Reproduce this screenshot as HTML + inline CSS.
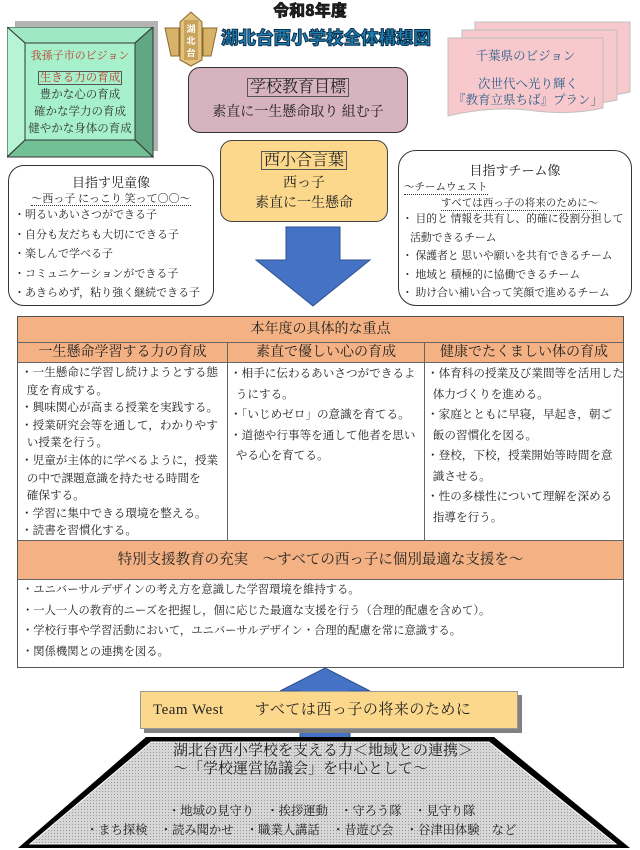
<!DOCTYPE html>
<html><head><meta charset="utf-8">
<style>
*{margin:0;padding:0;box-sizing:border-box}
body{width:640px;height:850px;background:#fff;position:relative;overflow:hidden;font-family:"Liberation Serif","Noto Serif CJK SC",serif;color:#222}
.a{position:absolute}
.c{text-align:center}
</style></head><body>

<!-- Green vision box -->
<div class="a" style="left:15px;top:21px;width:143px;height:130px;background:#b3b3b3"></div>
<svg class="a" style="left:7px;top:27px" width="147" height="131">
<polygon points="0,0 146,0 128,16 18,16" fill="#9fe8c4" stroke="#333" stroke-width="1"/>
<polygon points="146,0 146,130 128,113 128,16" fill="#5fa883" stroke="#333"/>
<polygon points="0,130 146,130 128,113 18,113" fill="#72c095" stroke="#333"/>
<polygon points="0,0 18,16 18,113 0,130" fill="#b5f5d6" stroke="#333"/>
<rect x="18" y="16" width="110" height="97" fill="#a6f0cc" stroke="#333"/>
</svg>
<div class="a c" style="left:25px;top:47px;width:110px;font-size:11px;color:#c0392b">我孫子市のビジョン</div>
<div class="a c" style="left:25px;top:70px;width:110px;font-size:11.5px;line-height:17px;color:#333">
<span style="color:#c0392b;border:1px solid #555;padding:0 1px">生きる力の育成</span><br>豊かな心の育成<br>確かな学力の育成<br>健やかな身体の育成</div>

<!-- emblem -->
<svg class="a" style="left:163px;top:10px" width="56" height="58">
<path d="M2,18 L16,18 L16,46 L8,46 Z M54,18 L40,18 L40,46 L48,46 Z" fill="#d9b26a" stroke="#8a6a2a"/>
<path d="M17,12 L28,2 L39,12 L39,50 L28,56 L17,50 Z" fill="#e3c27f" stroke="#8a6a2a"/>
<rect x="21" y="10" width="14" height="40" fill="#c9a25c"/>
<text x="28" y="22" font-size="9" text-anchor="middle" fill="#fff" font-weight="bold" font-family="Noto Sans CJK JP,sans-serif">湖</text>
<text x="28" y="34" font-size="9" text-anchor="middle" fill="#fff" font-weight="bold" font-family="Noto Sans CJK JP,sans-serif">北</text>
<text x="28" y="46" font-size="9" text-anchor="middle" fill="#fff" font-weight="bold" font-family="Noto Sans CJK JP,sans-serif">台</text>
</svg>

<!-- titles -->
<div class="a c" style="left:260px;top:-3px;width:100px;font-family:'Noto Sans CJK JP',sans-serif;font-weight:900;font-size:16px;color:#222;-webkit-text-stroke:0.5px #000">令和8年度</div>
<div class="a" style="left:221px;top:25px;white-space:nowrap;font-family:'Noto Sans CJK JP',sans-serif;font-weight:900;font-size:17.5px;color:#1e7fb3;-webkit-text-stroke:1px #0b2f4a">湖北台西小学校全体構想図</div>

<!-- pink goal -->
<div class="a c" style="left:188px;top:67px;width:220px;height:66px;background:#d7b3bf;border:1px solid #333;border-radius:12px">
<div style="margin-top:6px;font-size:16px"><span style="border:1px solid #555;padding:0 2px">学校教育目標</span></div>
<div style="font-size:14px;margin-top:4px">素直に一生懸命取り 組む子</div></div>

<!-- Chiba doc stacked -->
<svg class="a" style="left:445px;top:20px" width="190" height="100">
<g fill="#f8c9cc" stroke="#c0c0c0">
<path d="M30,2 H185 V72 Q150,80 110,74 Q70,70 30,78 Z"/>
<path d="M17,10 H172 V80 Q137,88 97,82 Q57,78 17,86 Z"/>
<path d="M3,18 H158 V88 Q123,96 83,90 Q43,86 3,96 Z"/>
</g></svg>
<div class="a c" style="left:448px;top:46px;width:155px;font-size:12.5px;color:#2a5d8a">千葉県のビジョン</div>
<div class="a c" style="left:448px;top:76px;width:160px;font-size:12.5px;line-height:16px;color:#2a5d8a">次世代へ光り輝く<br>『教育立県ちば』プラン」</div>

<!-- yellow -->
<div class="a c" style="left:220px;top:140px;width:168px;height:82px;background:#fcd88c;border:1px solid #444;border-radius:12px">
<div style="margin-top:6px;font-size:16px"><span style="border:1px solid #555;padding:0 2px">西小合言葉</span></div>
<div style="font-size:14px;margin-top:4px;line-height:20px">西っ子<br>素直に一生懸命</div></div>

<!-- left child image -->
<div class="a" style="left:8px;top:165px;width:206px;height:141px;border:1px solid #333;border-radius:16px;background:#fff"></div>
<div class="a c" style="left:8px;top:172px;width:206px;font-size:13px">目指す児童像</div>
<div class="a c" style="left:8px;top:190px;width:206px;font-size:11px"><span style="border-bottom:1px dotted #333">～西っ子 にっこり 笑って〇〇～</span></div>
<div class="a" style="left:14px;top:206px;width:200px;font-size:11px;line-height:19.5px;white-space:nowrap">・明るいあいさつができる子<br>・自分も友だちも大切にできる子<br>・楽しんで学べる子<br>・コミュニケーションができる子<br>・あきらめず，粘り強く継続できる子</div>

<!-- right team -->
<div class="a" style="left:398px;top:150px;width:234px;height:156px;border:1px solid #333;border-radius:18px;background:#fff"></div>
<div class="a c" style="left:398px;top:160px;width:234px;font-size:13px">目指すチーム像</div>
<div class="a" style="left:404px;top:179px;font-size:10.5px;border-bottom:1px dotted #333">～チームウェスト</div>
<div class="a" style="left:441px;top:195px;font-size:10.5px;border-bottom:1px dotted #333">すべては西っ子の将来のために～</div>
<div class="a" style="left:402px;top:210px;width:230px;font-size:10.8px;line-height:18.5px;white-space:nowrap">・ 目的と 情報を共有し、的確に役割分担して<br>&nbsp;&nbsp;&nbsp;活動できるチーム<br>・ 保護者と 思いや願いを共有できるチーム<br>・ 地域と 積極的に協働できるチーム<br>・ 助け合い補い合って笑顔で進めるチーム</div>

<!-- down arrow -->
<svg class="a" style="left:250px;top:226px" width="125" height="82">
<polygon points="36,1 90,1 90,34 120,34 63,80 6,34 36,34" fill="#4472c4" stroke="#2f528f"/>
</svg>

<!-- table -->
<div class="a" style="left:17px;top:316px;width:607px;height:352px;border:1px solid #555;background:#fff"></div>
<div class="a c" style="left:18px;top:317px;width:605px;height:26px;background:#f4b183;border-bottom:1px solid #666;font-size:14px;line-height:26px">本年度の具体的な重点</div>
<div class="a" style="left:18px;top:343px;width:605px;height:20px;background:#f4b183;border-bottom:1px solid #666"></div>
<div class="a c" style="left:18px;top:343px;width:209px;font-size:14px;line-height:20px">一生懸命学習する力の育成</div>
<div class="a c" style="left:227px;top:343px;width:198px;font-size:14px;line-height:20px">素直で優しい心の育成</div>
<div class="a c" style="left:425px;top:343px;width:198px;font-size:14px;line-height:20px">健康でたくましい体の育成</div>
<div class="a" style="left:227px;top:343px;width:1px;height:197px;background:#666"></div>
<div class="a" style="left:424px;top:343px;width:1px;height:197px;background:#666"></div>
<div class="a" style="left:21px;top:364px;font-size:11.6px;line-height:17.6px;white-space:nowrap">
・一生懸命に学習し続けようとする態<br>&nbsp;&nbsp;度を育成する。<br>・興味関心が高まる授業を実践する。<br>・授業研究会等を通して，わかりやす<br>&nbsp;&nbsp;い授業を行う。<br>・児童が主体的に学べるように，授業<br>&nbsp;&nbsp;の中で課題意識を持たせる時間を<br>&nbsp;&nbsp;確保する。<br>・学習に集中できる環境を整える。<br>・読書を習慣化する。</div>
<div class="a" style="left:230px;top:364px;font-size:11.6px;line-height:20.5px;white-space:nowrap">
・相手に伝わるあいさつができるよ<br>&nbsp;&nbsp;うにする。<br>・「いじめゼロ」の意識を育てる。<br>・道徳や行事等を通して他者を思い<br>&nbsp;&nbsp;やる心を育てる。</div>
<div class="a" style="left:427px;top:364px;font-size:11.6px;line-height:20.5px;white-space:nowrap">
・体育科の授業及び業間等を活用した<br>&nbsp;&nbsp;体力づくりを進める。<br>・家庭とともに早寝，早起き，朝ご<br>&nbsp;&nbsp;飯の習慣化を図る。<br>・登校，下校，授業開始等時間を意<br>&nbsp;&nbsp;識させる。<br>・性の多様性について理解を深める<br>&nbsp;&nbsp;指導を行う。</div>
<div class="a c" style="left:18px;top:540px;width:605px;height:40px;background:#f4b183;border-top:1px solid #666;border-bottom:1px solid #666;font-size:14.5px;line-height:38px">特別支援教育の充実　～すべての西っ子に個別最適な支援を～</div>
<div class="a" style="left:22px;top:580px;width:600px;font-size:11.3px;line-height:20.5px;white-space:nowrap">・ユニバーサルデザインの考え方を意識した学習環境を維持する。<br>・一人一人の教育的ニーズを把握し，個に応じた最適な支援を行う（合理的配慮を含めて）。<br>・学校行事や学習活動において，ユニバーサルデザイン・合理的配慮を常に意識する。<br>・関係機関との連携を図る。</div>

<!-- up arrow -->
<svg class="a" style="left:270px;top:666px" width="110" height="75">
<polygon points="55,2 100,25 80,25 80,72 30,72 30,25 10,25" fill="#4472c4" stroke="#2f528f"/>
</svg>

<!-- banner -->
<div class="a" style="left:144px;top:695px;width:378px;height:38px;background:#808080"></div>
<div class="a" style="left:140px;top:691px;width:378px;height:38px;background:#fcd88c;border:1px solid #999;font-size:15px;line-height:36px;padding-left:12px;letter-spacing:0.5px;white-space:nowrap">Team West　　すべては西っ子の将来のために</div>

<!-- trapezoid -->
<svg class="a" style="left:0;top:734px" width="640" height="116">
<defs><pattern id="p" width="3" height="3" patternUnits="userSpaceOnUse"><rect width="3" height="3" fill="#d6d6d6"/><rect width="1" height="1" fill="#9a9a9a"/></pattern></defs>
<polygon points="146,3 494,3 630,114 18,114" fill="#000"/>
<polygon points="151,8 489,8 616,110 30,110" fill="url(#p)" stroke="#fff" stroke-width="1"/>
</svg>
<div class="a" style="left:173px;top:742px;font-size:15px;line-height:18px;white-space:nowrap">湖北台西小学校を支える力＜地域との連携＞<br>～「学校運営協議会」を中心として～</div>
<div class="a" style="left:168px;top:801px;font-size:12.3px;white-space:pre">・地域の見守り　・挨拶運動　・守ろう隊　・見守り隊</div>
<div class="a" style="left:86px;top:820px;font-size:12.3px;white-space:pre">・まち探検　・読み聞かせ　・職業人講話　・昔遊び会　・谷津田体験　など</div>
</body></html>
